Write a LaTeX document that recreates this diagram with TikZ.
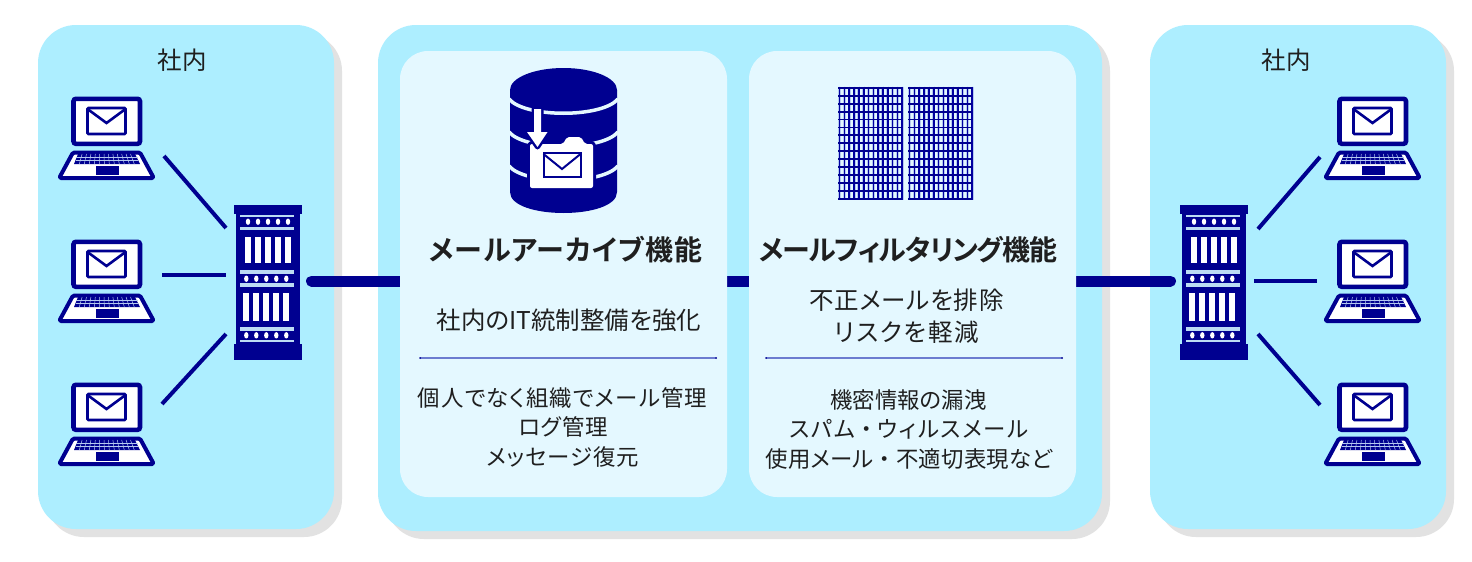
\documentclass[tikz,border=0pt]{standalone}
\usepackage{fontspec}
\setmainfont[RawFeature={+palt}]{Noto Sans CJK JP}
\newfontfamily\jpb[RawFeature={+palt}]{Noto Sans CJK JP Bold}
\newcommand\trk[1]{\addfontfeature{LetterSpace=#1}}
\newcommand\fulldot{\makebox[22.4pt][c]{・}}
\definecolor{navy}{HTML}{000090}
\definecolor{cyanbg}{HTML}{ADEEFF}
\definecolor{innerbg}{HTML}{E4F8FF}
\definecolor{shadowc}{HTML}{E2E2E2}
\definecolor{lightb}{HTML}{BCDCF4}
\definecolor{halo}{HTML}{B4C8F0}
\definecolor{rulec}{HTML}{6C7CD0}
\tikzset{
  outerbox/.style={fill=cyanbg,rounded corners=38pt},
  shadowbox/.style={fill=shadowc,rounded corners=38pt},
  innerbox/.style={fill=innerbg,rounded corners=28pt},
  link/.style={draw=navy,line width=4pt},
  trunk/.style={draw=navy,line width=11pt,line cap=round},
  rulel/.style={draw=rulec,line width=1.4pt},
  ruleend/.style={fill=navy},
  bodytxt/.style={font=\fontsize{22.4}{26}\selectfont,text=black!88,inner sep=0pt,anchor=center},
  subtxt/.style={font=\fontsize{24.5}{28}\selectfont,text=black!88,inner sep=0pt,anchor=center},
  headtxt/.style={font=\jpb\fontsize{28}{32}\selectfont,text=black!88,inner sep=0pt,anchor=center},
  laptop/.pic={
    \draw[navy,line width=4.6pt,fill=white,rounded corners=2.5pt] (15.5,1.8) rectangle (82,46.8);
    \draw[navy,line width=2.6pt,fill=white,rounded corners=1pt] (29.5,11) rectangle (67.5,37);
    \draw[navy,line width=2.6pt,line join=miter] (29.5,12) -- (48.5,26) -- (67.5,12);
    \draw[navy,line width=4pt,fill=white,rounded corners=1.5pt,line join=round] (15,55.5) -- (82,55.5) -- (95.8,81) -- (1.2,81) -- cycle;
    \fill[navy] (20,57) -- (77,57) -- (82,67) -- (16,67) -- cycle;
    \foreach \yy in {60.3,63.6} \draw[halo,line width=.5pt] (17.5,\yy) -- (80,\yy);
    \foreach \k in {1,...,12} \draw[halo,line width=.5pt] ({20+\k*4.4-.3},57) -- ({16+\k*5+.3},67);
    \fill[navy] (37.5,69) rectangle (60.5,77.5);
  },
  serverbox/.pic={
    \fill[navy] (2,8) rectangle (66,140);
    \fill[navy] (0,0) rectangle (68,9);
    \fill[navy] (0,138.5) rectangle (68,154.5);
    \fill[lightb] (6,10) rectangle (60,11.7);
    \fill[lightb] (6,21.7) rectangle (60,25);
    \fill[lightb] (6,65) rectangle (60,69);
    \fill[lightb] (6,78.3) rectangle (60,81.7);
    \fill[lightb] (6,122) rectangle (60,126);
    \fill[lightb] (6,135) rectangle (60,137.3);
    \foreach \k in {0,...,4} {
      \fill[white] ({14+\k*10},16.7) ellipse [x radius=2.2,y radius=3.2];
      \fill[white] ({12.3+\k*10},73.7) ellipse [x radius=2.2,y radius=3.2];
      \fill[white] ({12.3+\k*10},130.3) ellipse [x radius=2.2,y radius=3.2];
      \fill[white] ({11.3+\k*10},31.7) rectangle ++(5.7,26.6);
      \fill[white] ({9.3+\k*10},88.3) rectangle ++(5.9,27.4);
    }
  },
  gridblock/.pic={
    \foreach \k in {0,...,13} \draw[halo,line width=3pt] ({1.3+\k*4.82},0) -- ({1.3+\k*4.82},113.5);
    \foreach \k in {0,...,13} \draw[navy!85!blue,line width=1.6pt] ({1.3+\k*4.82},0) -- ({1.3+\k*4.82},113.5);
    \foreach \k in {0,...,14} \draw[navy,line width=1.9pt] (0,{1+\k*7.95}) -- (63.4,{1+\k*7.95});
  }
}
\begin{document}
\begin{tikzpicture}[x=1pt,y=-1pt]
\useasboundingbox (0,0) rectangle (1472,562);
\fill[white] (0,0) rectangle (1472,562);
% shadows
\fill[shadowbox] (46,33) rectangle (342,537);
\fill[shadowbox] (386,33) rectangle (1110,539);
\fill[shadowbox] (1158,33) rectangle (1454,537);
% regions
\fill[outerbox] (38,25) rectangle (334,529);
\fill[outerbox] (378,25) rectangle (1102,531);
\fill[outerbox] (1150,25) rectangle (1446,529);
% trunk
\coordinate (trunkL) at (311.5,281);
\coordinate (trunkR) at (1170.5,281);
\draw[trunk] (trunkL) -- (trunkR);
% inner
\fill[innerbox] (400,51) rectangle (727,497);
\fill[innerbox] (749,51) rectangle (1076,497);
% labels
\node[subtxt] (tl) at (182,60) {社内};
\node[subtxt] (tr) at (1286,60) {社内};
% laptops
\foreach \yy in {97,240,383} {
  \pic at (58,\yy) {laptop};
  \pic at (1324,\yy) {laptop};
}
\pic at (234,205) {serverbox};
\pic at (1180,205) {serverbox};
% links
\coordinate (a1) at (164,156); \coordinate (a2) at (226,228);
\coordinate (b1) at (162,275); \coordinate (b2) at (226,275);
\coordinate (c1) at (162,404); \coordinate (c2) at (226,334);
\coordinate (d1) at (1320,157); \coordinate (d2) at (1258,229);
\coordinate (e1) at (1317,281); \coordinate (e2) at (1254,281);
\coordinate (f1) at (1320,405); \coordinate (f2) at (1258,334);
\foreach \p/\q in {a1/a2,b1/b2,c1/c2,d1/d2,e1/e2,f1/f2} \draw[link] (\p) -- (\q);
% database
\fill[navy] (510,90) -- (510,192) .. controls (510,220) and (617,220) .. (617,192) -- (617,90) -- cycle;
\fill[navy] (563.5,90) ellipse [x radius=53.5,y radius=22];
\draw[innerbg,line width=3.5pt] (509,99) .. controls (525,118) and (602,118) .. (618,99);
\draw[innerbg,line width=3.5pt] (509,132) .. controls (525,151) and (602,151) .. (618,132);
\draw[innerbg,line width=3.5pt] (509,166) .. controls (525,185) and (602,185) .. (618,166);
\draw[navy,line width=6pt,fill=white,rounded corners=2pt,line join=round]
  (530,144) -- (563,144) -- (567,137) -- (581,137) -- (585,144) -- (593,144) -- (593,188) -- (530,188) -- cycle;
\fill[white,rounded corners=2pt] (530,144) -- (563,144) -- (567,137) -- (581,137) -- (585,144) -- (593,144) -- (593,188) -- (530,188) -- cycle;
\draw[navy,line width=2pt,fill=white] (543.5,153) rectangle (580.5,177);
\draw[navy,line width=2pt] (543.5,154) -- (562,169) -- (580.5,154);
\draw[navy,line width=5pt,fill=white,line join=round] (534,109) -- (541,109) -- (541,132) -- (547.5,132) -- (537.5,147) -- (527,132) -- (534,132) -- cycle;
\fill[white] (534,109) -- (541,109) -- (541,132) -- (547.5,132) -- (537.5,147) -- (527,132) -- (534,132) -- cycle;
% filter grid
\pic at (838.3,86.7) {gridblock};
\pic at (908.3,86.7) {gridblock};
% text left
\node[headtxt] (h1) at (566,250) {\trk{4}メールアーカイブ機能};
\node[subtxt] (s1) at (569,320) {社内のIT統制整備を強化};
\coordinate (r1a) at (420,358); \coordinate (r1b) at (716,358);
\draw[rulel] (r1a) -- (r1b);
\fill[ruleend] (r1a) circle (1); \fill[ruleend] (r1b) circle (1);
\node[bodytxt] (l1) at (562.5,398) {\trk{5}個人でなく組織でメール管理};
\node[bodytxt] (l2) at (563,427) {\trk{3.5}ログ管理};
\node[bodytxt] (l3) at (563,457) {\trk{3.8}メッセージ復元};
% text right
\node[headtxt] (h2) at (908,250) {\trk{-4}メールフィルタリング機能};
\node[subtxt] (s2) at (906.5,300) {\trk{3}不正メールを排除};
\node[subtxt] (s3) at (907,332) {\trk{7.5}リスクを軽減};
\coordinate (r2a) at (766,358); \coordinate (r2b) at (1062,358);
\draw[rulel] (r2a) -- (r2b);
\fill[ruleend] (r2a) circle (1); \fill[ruleend] (r2b) circle (1);
\node[bodytxt] (m1) at (908.5,400) {機密情報の漏洩};
\node[bodytxt] (m2) at (909,429) {\trk{7}スパム\fulldot ウィルスメール};
\node[bodytxt] (m3) at (909,459) {\trk{1}使用メール\fulldot 不適切表現など};
\end{tikzpicture}
\end{document}
